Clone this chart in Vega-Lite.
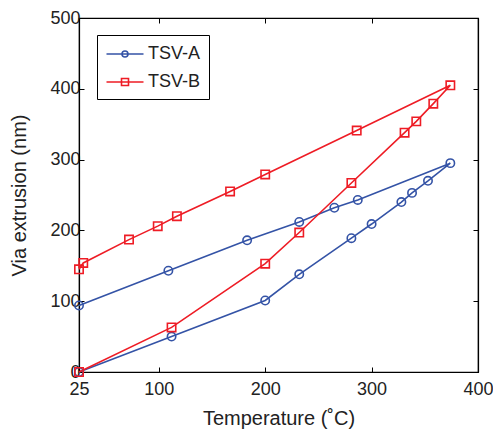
{
  "$schema": "https://vega.github.io/schema/vega-lite/v6.json",
  "width": 399,
  "height": 354,
  "autosize": {"type": "none"},
  "padding": {"left": 79, "top": 18, "right": 15, "bottom": 57},
  "background": "white",
  "config": {
    "view": {"stroke": "black", "strokeWidth": 1.2},
    "font": "Liberation Sans",
    "axis": {
      "labelFont": "Liberation Sans",
      "titleFont": "Liberation Sans",
      "labelFontSize": 18,
      "titleFontSize": 20,
      "titleFontWeight": "normal",
      "labelColor": "#222",
      "titleColor": "#222",
      "domainColor": "black",
      "tickColor": "black",
      "grid": false,
      "tickSize": -5,
      "domainWidth": 1.2,
      "labelFlush": false,
      "labelOverlap": false
    },
    "legend": {
      "labelFont": "Liberation Sans",
      "labelFontSize": 18,
      "labelColor": "#222"
    }
  },
  "data": {
    "values": [
      {"series": "TSV-A", "seq": 1, "T": 25, "v": 0},
      {"series": "TSV-A", "seq": 2, "T": 112, "v": 50},
      {"series": "TSV-A", "seq": 3, "T": 200, "v": 101},
      {"series": "TSV-A", "seq": 4, "T": 232, "v": 138},
      {"series": "TSV-A", "seq": 5, "T": 281, "v": 189},
      {"series": "TSV-A", "seq": 6, "T": 300, "v": 209},
      {"series": "TSV-A", "seq": 7, "T": 328, "v": 240},
      {"series": "TSV-A", "seq": 8, "T": 338, "v": 253},
      {"series": "TSV-A", "seq": 9, "T": 353, "v": 270},
      {"series": "TSV-A", "seq": 10, "T": 374, "v": 295},
      {"series": "TSV-A", "seq": 11, "T": 287, "v": 243},
      {"series": "TSV-A", "seq": 12, "T": 265, "v": 232},
      {"series": "TSV-A", "seq": 13, "T": 232, "v": 212},
      {"series": "TSV-A", "seq": 14, "T": 183, "v": 186},
      {"series": "TSV-A", "seq": 15, "T": 109, "v": 143},
      {"series": "TSV-A", "seq": 16, "T": 25, "v": 94},
      {"series": "TSV-B", "seq": 1, "T": 25, "v": 0},
      {"series": "TSV-B", "seq": 2, "T": 112, "v": 63},
      {"series": "TSV-B", "seq": 3, "T": 200, "v": 153},
      {"series": "TSV-B", "seq": 4, "T": 232, "v": 197},
      {"series": "TSV-B", "seq": 5, "T": 281, "v": 267},
      {"series": "TSV-B", "seq": 6, "T": 331, "v": 338},
      {"series": "TSV-B", "seq": 7, "T": 342, "v": 354},
      {"series": "TSV-B", "seq": 8, "T": 358, "v": 379},
      {"series": "TSV-B", "seq": 9, "T": 374, "v": 405},
      {"series": "TSV-B", "seq": 10, "T": 286, "v": 341},
      {"series": "TSV-B", "seq": 11, "T": 200, "v": 279},
      {"series": "TSV-B", "seq": 12, "T": 167, "v": 255},
      {"series": "TSV-B", "seq": 13, "T": 117, "v": 220},
      {"series": "TSV-B", "seq": 14, "T": 99, "v": 206},
      {"series": "TSV-B", "seq": 15, "T": 72, "v": 187},
      {"series": "TSV-B", "seq": 16, "T": 29, "v": 154},
      {"series": "TSV-B", "seq": 17, "T": 25, "v": 145}
    ]
  },
  "resolve": {"axis": {"x": "independent", "y": "independent"}},
  "layer": [
    {
      "mark": {"type": "line", "strokeWidth": 1.6},
      "encoding": {
        "x": {
          "field": "T", "type": "quantitative",
          "scale": {"domain": [25, 400], "nice": false, "zero": false},
          "axis": {"values": [25, 100, 200, 300, 400], "title": "Temperature (˚C)", "labelPadding": 13, "titlePadding": 10}
        },
        "y": {
          "field": "v", "type": "quantitative",
          "scale": {"domain": [0, 500], "nice": false},
          "axis": {"values": [0, 100, 200, 300, 400, 500], "title": "Via extrusion (nm)", "labelPadding": 4, "titlePadding": 20}
        },
        "order": {"field": "seq", "type": "quantitative"},
        "color": {
          "field": "series", "type": "nominal",
          "scale": {"domain": ["TSV-A", "TSV-B"], "range": ["#3453A6", "#EE1C25"]},
          "legend": {
            "title": null,
            "orient": "none",
            "legendX": 18,
            "legendY": 17,
            "strokeColor": "black",
            "fillColor": "white",
            "padding": 8,
            "rowPadding": 8,
            "symbolSize": 400,
            "symbolOffset": 9,
            "symbolStrokeWidth": 1.6,
            "symbolFillColor": "transparent",
            "labelOffset": 12,
            "encoding": {
              "symbols": {
                "shape": {"value": {"expr": "datum.value === 'TSV-A' ? 'M-1.85,0H1.85M0.3,0A0.3,0.3 0 1 1 -0.3,0A0.3,0.3 0 1 1 0.3,0' : 'M-1.85,0H1.85M-0.35,-0.35H0.35V0.35H-0.35Z'"}},
                "fill": {"value": "transparent"}
              }
            }
          }
        }
      }
    },
    {
      "mark": {"type": "point", "filled": false, "strokeWidth": 1.6, "opacity": 1, "size": 70},
      "encoding": {
        "x": {"field": "T", "type": "quantitative", "axis": {"orient": "top", "values": [25, 100, 200, 300, 400], "labels": false, "title": null}},
        "y": {"field": "v", "type": "quantitative", "axis": {"orient": "right", "values": [0, 100, 200, 300, 400, 500], "labels": false, "title": null}},
        "color": {"field": "series", "type": "nominal", "legend": null},
        "shape": {"condition": {"test": "datum.series === 'TSV-A'", "value": "circle"}, "value": "square"}
      }
    }
  ]
}
